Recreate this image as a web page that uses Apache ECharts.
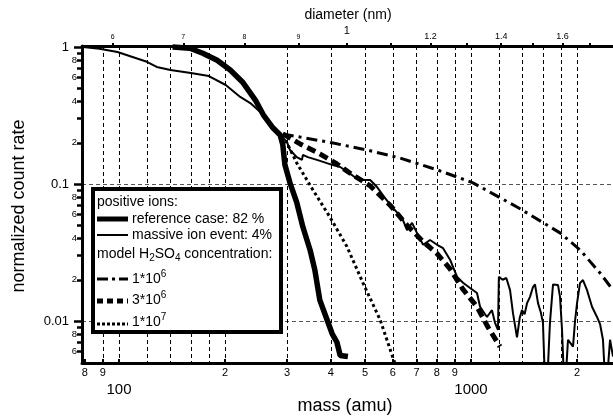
<!DOCTYPE html>
<html>
<head>
<meta charset="utf-8">
<script src="https://cdn.jsdelivr.net/npm/echarts@6/dist/echarts.min.js"></script>
<style>
  html, body { margin: 0; padding: 0; background: #fff; }
  #chart { width: 613px; height: 418px; }
</style>
</head>
<body>
<div id="chart"></div>
<script>
// [mass (amu), normalized count rate]
const referenceCase = [
  [142, 1.0], [159, 0.98], [173, 0.90], [190, 0.80], [207, 0.68], [225, 0.55],
  [244, 0.41], [257, 0.32], [274, 0.256], [287, 0.228], [292, 0.193], [296, 0.138],
  [306, 0.102], [320, 0.073], [333, 0.0485], [349, 0.033], [360, 0.0236], [372, 0.0142],
  [390, 0.0102], [403, 0.0081], [416, 0.0070], [425, 0.0056], [447, 0.0055]
];
const massiveIonEvent = [
  [79, 1.0], [88, 0.97], [99, 0.92], [120, 0.78], [128, 0.715], [140, 0.68], [160, 0.646],
  [180, 0.614], [201, 0.528], [221, 0.432], [236, 0.39], [252, 0.335], [268, 0.27],
  [283, 0.236], [300, 0.203], [306, 0.177], [320, 0.157], [331, 0.15], [333, 0.163],
  [344, 0.157], [365, 0.15], [380, 0.145], [403, 0.138], [425, 0.133], [447, 0.122],
  [468, 0.112], [490, 0.107], [517, 0.107], [541, 0.095], [570, 0.079], [600, 0.067],
  [637, 0.0565], [658, 0.046], [680, 0.052], [702, 0.044], [731, 0.036], [765, 0.039],
  [801, 0.036], [833, 0.034], [872, 0.028], [913, 0.021], [949, 0.019], [994, 0.0174],
  [1040, 0.016], [1061, 0.0127], [1110, 0.0107], [1147, 0.012], [1170, 0.0097],
  [1193, 0.0086], [1200, 0.021], [1230, 0.020], [1260, 0.0206], [1291, 0.0168],
  [1316, 0.0114], [1351, 0.0076], [1375, 0.0105], [1396, 0.012], [1420, 0.0112],
  [1443, 0.0135], [1471, 0.015], [1500, 0.0177], [1520, 0.0185], [1550, 0.0135],
  [1580, 0.0115], [1601, 0.0097], [1620, 0.004], [1650, 0.004], [1676, 0.0097],
  [1710, 0.0185], [1767, 0.0183], [1790, 0.015], [1814, 0.0086], [1835, 0.004],
  [1860, 0.004], [1886, 0.0073], [1949, 0.0065], [1975, 0.010], [2001, 0.0135],
  [2040, 0.0189], [2080, 0.0199], [2136, 0.0168], [2207, 0.0127], [2280, 0.0107],
  [2326, 0.0095], [2371, 0.0073], [2400, 0.004], [2440, 0.004], [2483, 0.0073], [2532, 0.0055]
];
const model1e6 = [
  [292, 0.232], [327, 0.220], [406, 0.199], [507, 0.177], [627, 0.155], [801, 0.127],
  [1013, 0.102], [1351, 0.068], [1790, 0.044], [2041, 0.033], [2326, 0.0224], [2532, 0.0168]
];
const model3e6 = [
  [292, 0.232], [327, 0.196], [372, 0.166], [416, 0.140], [462, 0.116], [517, 0.097],
  [589, 0.070], [658, 0.050], [731, 0.038], [801, 0.031], [872, 0.024], [949, 0.017],
  [1040, 0.0127], [1118, 0.0090], [1209, 0.0065]
];
const model1e7 = [
  [292, 0.228], [306, 0.18], [320, 0.142], [356, 0.090], [398, 0.057], [444, 0.035],
  [493, 0.019], [552, 0.0102], [600, 0.0054], [610, 0.0048]
];

// axis ticks
const massTicks = [80, 90, 100, 200, 300, 400, 500, 600, 700, 800, 900, 1000, 2000];
const massGrid = [90, 100, 120, 140, 160, 180, 200, 300, 400, 500, 600, 700, 800, 900,
  1000, 1200, 1400, 1600, 1800, 2000];
const rateTicks = [0.006, 0.007, 0.008, 0.009, 0.01, 0.02, 0.03, 0.04, 0.05, 0.06, 0.07,
  0.08, 0.09, 0.1, 0.2, 0.3, 0.4, 0.5, 0.6, 0.7, 0.8, 0.9, 1];
const rateLabels = [0.006, 0.008, 0.01, 0.02, 0.04, 0.06, 0.08, 0.1, 0.2, 0.4, 0.6, 0.8, 1];
const rateMajor = [0.01, 0.1, 1];
const diameterTicks = [0.6, 0.7, 0.8, 0.9, 1.0, 1.1, 1.2, 1.3, 1.4, 1.5, 1.6, 1.7];
const diameterLabels = [0.6, 0.7, 0.8, 0.9, 1.0, 1.2, 1.4, 1.6];
const massPerNm3 = 444; // mass = k * d^3

const FONT = 'Liberation Sans, Arial, Helvetica, sans-serif';
const lg = Math.log10;

function toLog(pts) {
  return pts.map(p => [lg(p[0]), lg(p[1])]);
}
function dToLogMass(d) {
  return lg(massPerNm3 * d * d * d);
}

const XMIN = 1.8949, XMAX = 3.4034;
const YMIN = -2.3066, YMAX = 0.0073;

const chart = echarts.init(document.getElementById('chart'));

const gridDash = { type: [4, 3], width: 1 };

// legend box contents (drawn above the series)
function legendText(x, y, text, rich) {
  return {
    type: 'text', x: x, y: y, z: 100,
    style: { text: text, fontSize: 14, fontFamily: FONT, fill: '#000', lineHeight: 19,
      verticalAlign: 'middle', textVerticalAlign: 'middle', rich: rich || {} }
  };
}
function legendLine(y, width, dash) {
  return {
    type: 'line', z: 100, shape: { x1: 97, y1: y, x2: 128, y2: y },
    style: { stroke: '#000', lineWidth: width, lineDash: dash || null }
  };
}
const supRich = { sup: { fontSize: 10, fontFamily: FONT, fill: '#000', lineHeight: 10, verticalAlign: 'top' } };
const subRich = { sub: { fontSize: 10, fontFamily: FONT, fill: '#000', lineHeight: 10, verticalAlign: 'bottom' } };

chart.setOption({
  animation: false,
  backgroundColor: '#fff',
  textStyle: { fontFamily: FONT },
  grid: { left: 82, right: 0, top: 46, bottom: 55 },
  xAxis: [
    {
      type: 'value', position: 'bottom', min: XMIN, max: XMAX,
      axisLine: { onZero: false, lineStyle: { color: '#000', width: 3 } },
      axisTick: { inside: true, length: 4, lineStyle: { color: '#000', width: 2 },
        customValues: massTicks.map(lg) },
      axisLabel: {
        customValues: massTicks.map(lg), margin: 4, color: '#000',
        formatter: v => {
          const m = Math.round(Math.pow(10, v));
          if (m === 100 || m === 1000) return '{big|' + m + '}';
          return '{small|' + String(m).charAt(0) + '}';
        },
        rich: {
          small: { fontSize: 11, fontFamily: FONT, color: '#000' },
          big: { fontSize: 15, fontFamily: FONT, color: '#000', padding: [15, 0, 0, 0] }
        }
      },
      splitLine: { show: false }
    },
    {
      type: 'value', position: 'top', min: XMIN, max: XMAX,
      axisLine: { onZero: false, lineStyle: { color: '#000', width: 3 } },
      axisTick: { inside: false, length: 3, lineStyle: { color: '#000', width: 2 },
        customValues: diameterTicks.map(dToLogMass) },
      axisLabel: {
        customValues: diameterLabels.map(dToLogMass), margin: 5, color: '#000',
        formatter: v => {
          const d = Math.round(Math.cbrt(Math.pow(10, v) / massPerNm3) * 10) / 10;
          if (d < 0.95) return '{tiny|' + Math.round(d * 10) + '}';
          if (d < 1.05) return '{one|1}';
          return '{mid|' + d.toFixed(1) + '}';
        },
        rich: {
          tiny: { fontSize: 7, fontFamily: FONT, color: '#000' },
          one: { fontSize: 11, fontFamily: FONT, color: '#000', padding: [0, 0, 5, 0] },
          mid: { fontSize: 9, fontFamily: FONT, color: '#000' }
        }
      },
      splitLine: { show: false }
    },
    {
      // vertical grid lines
      type: 'value', position: 'bottom', min: XMIN, max: XMAX,
      axisLine: { show: false, onZero: false },
      axisTick: { show: false, customValues: massGrid.map(lg) },
      axisLabel: { show: false },
      splitLine: { show: true, lineStyle: Object.assign({ color: '#000' }, gridDash) }
    }
  ],
  yAxis: [
    {
      type: 'value', position: 'left', min: YMIN, max: YMAX,
      axisLine: { onZero: false, lineStyle: { color: '#000', width: 3 } },
      axisTick: { inside: false, length: 5, lineStyle: { color: '#000', width: 2.5 },
        customValues: rateTicks.map(lg) },
      axisLabel: {
        customValues: rateLabels.map(lg), margin: 5, color: '#000',
        formatter: v => {
          const e = Math.floor(v + 1e-9);
          const mant = Math.round(Math.pow(10, v - e));
          if (mant === 1) {
            const s = e === 0 ? '1' : (e === -1 ? '0.1' : '0.01');
            return '{big|' + s + '}';
          }
          return '{small|' + mant + '}';
        },
        rich: {
          small: { fontSize: 9.5, fontFamily: FONT, color: '#000' },
          big: { fontSize: 13, fontFamily: FONT, color: '#000', padding: [0, 8, 0, 0] }
        }
      },
      splitLine: { show: false }
    },
    {
      // major ticks and horizontal grid lines
      type: 'value', position: 'left', min: YMIN, max: YMAX,
      axisLine: { show: false, onZero: false },
      axisTick: { show: true, inside: false, length: 8, lineStyle: { color: '#000', width: 2.5 },
        customValues: rateMajor.map(lg) },
      axisLabel: { show: false },
      splitLine: { show: true, lineStyle: Object.assign({ color: '#555' }, gridDash) }
    }
  ],
  series: [
    {
      name: '1*10^6', type: 'line', data: toLog(model1e6), showSymbol: false, silent: true,
      lineStyle: { color: '#000', width: 3, type: [11, 5, 3, 5] }
    },
    {
      name: '1*10^7', type: 'line', data: toLog(model1e7), showSymbol: false, silent: true,
      lineStyle: { color: '#000', width: 3, type: [3, 3] }
    },
    {
      name: 'massive ion event', type: 'line', data: toLog(massiveIonEvent), showSymbol: false,
      silent: true, lineStyle: { color: '#000', width: 2 }
    },
    {
      name: '3*10^6', type: 'line', data: toLog(model3e6), showSymbol: false, silent: true,
      lineStyle: { color: '#000', width: 5, type: [9, 5] }
    },
    {
      name: 'reference case', type: 'line', data: toLog(referenceCase), showSymbol: false,
      silent: true, lineStyle: { color: '#000', width: 5.5 }
    }
  ],
  graphic: [
    {
      type: 'text', x: 348, y: 15,
      style: { text: 'diameter (nm)', fontSize: 14, fontFamily: FONT, fill: '#000',
        align: 'center', verticalAlign: 'middle', textAlign: 'center', textVerticalAlign: 'middle' }
    },
    {
      type: 'text', x: 345, y: 406,
      style: { text: 'mass (amu)', fontSize: 18, fontFamily: FONT, fill: '#000',
        align: 'center', verticalAlign: 'middle', textAlign: 'center', textVerticalAlign: 'middle' }
    },
    {
      type: 'text', x: 19, y: 206, rotation: Math.PI / 2,
      style: { text: 'normalized count rate', fontSize: 18, fontFamily: FONT, fill: '#000',
        align: 'center', verticalAlign: 'middle', textAlign: 'center', textVerticalAlign: 'middle' }
    },
    { type: 'rect', z: 99, shape: { x: 93, y: 189, width: 188, height: 143 },
      style: { fill: '#fff', stroke: '#000', lineWidth: 4 } },
    legendText(97, 202, 'positive ions:'),
    legendLine(219, 5),
    legendText(132, 219, 'reference case: 82 %'),
    legendLine(235, 2),
    legendText(132, 235, 'massive ion event: 4%'),
    legendText(97, 254, 'model H{sub|2}SO{sub|4} concentration:', subRich),
    legendLine(279, 3, [11, 4, 3, 4]),
    legendText(132, 279, '1*10{sup|6}', supRich),
    legendLine(301, 5, [6, 4]),
    legendText(132, 300, '3*10{sup|6}', supRich),
    legendLine(324, 3, [3, 2]),
    legendText(132, 322, '1*10{sup|7}', supRich)
  ]
});
</script>
</body>
</html>
